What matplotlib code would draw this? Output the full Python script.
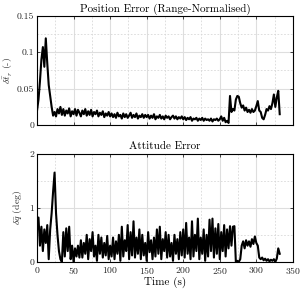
import numpy as np
import matplotlib
matplotlib.use('Agg')
import matplotlib.pyplot as plt
from matplotlib.ticker import MultipleLocator, FuncFormatter

plt.rcParams['font.family'] = 'serif'
plt.rcParams['font.serif'] = ['cmr10']
plt.rcParams['mathtext.fontset'] = 'cm'
plt.rcParams['axes.formatter.use_mathtext'] = True

# range-normalised position error, sampled every 2 s
pos_err = [0.02, 0.035, 0.06, 0.09, 0.107, 0.08, 0.119, 0.085, 0.055, 0.04,
           0.025, 0.013, 0.018, 0.012, 0.022, 0.016, 0.025,
           # 34 - 100 s
           0.014, 0.022, 0.013, 0.02, 0.016, 0.023, 0.012, 0.019, 0.015, 0.022,
           0.013, 0.021, 0.017, 0.012, 0.02, 0.015, 0.022, 0.013, 0.019, 0.014,
           0.021, 0.012, 0.018, 0.015, 0.02, 0.012, 0.017, 0.014, 0.019, 0.011,
           0.016, 0.013, 0.018, 0.012,
           # 102 - 150 s
           0.016, 0.011, 0.015, 0.01, 0.017, 0.012, 0.014, 0.009, 0.016, 0.011,
           0.015, 0.01, 0.013, 0.017, 0.01, 0.014, 0.011, 0.016, 0.009, 0.013,
           0.011, 0.015, 0.01, 0.014, 0.011,
           # 152 - 200 s
           0.014, 0.009, 0.013, 0.01, 0.015, 0.008, 0.012, 0.01, 0.014, 0.009,
           0.012, 0.008, 0.013, 0.01, 0.012, 0.008, 0.011, 0.013, 0.009, 0.012,
           0.008, 0.011, 0.009, 0.012, 0.008,
           # 202 - 250 s
           0.011, 0.007, 0.01, 0.008, 0.011, 0.006, 0.009, 0.008, 0.01, 0.006,
           0.009, 0.007, 0.01, 0.006, 0.009, 0.007, 0.008, 0.006, 0.009, 0.005,
           0.008, 0.007, 0.009, 0.006, 0.008,
           # 252 - 262 s
           0.012, 0.006, 0.01, 0.004, 0.006, 0.003,
           # 264 - 332 s
           0.04, 0.018, 0.022, 0.02, 0.035, 0.04, 0.039, 0.03, 0.024, 0.027,
           0.02, 0.024, 0.018, 0.021, 0.017, 0.022, 0.018, 0.02, 0.026, 0.033,
           0.02, 0.018, 0.01, 0.008, 0.014, 0.022, 0.02, 0.026, 0.022, 0.03,
           0.042, 0.025, 0.038, 0.047, 0.015]

# attitude error (deg), sampled every 2 s
att_err = [0.6, 0.82, 0.3, 0.65, 0.2, 0.6, 0.35, 0.68, 0.05, 0.6,
           0.9, 1.3, 1.65, 0.9, 0.5, 0.2, 0.05, 0.0, 0.55, 0.1,
           0.62, 0.2, 0.65, 0.05, 0.3, 0.0, 0.25, 0.1, 0.3, 0.08,
           # 60 - 100 s
           0.4, 0.08, 0.35, 0.15, 0.5, 0.05, 0.42, 0.2, 0.55, 0.1,
           0.3, 0.02, 0.5, 0.15, 0.45, 0.08, 0.35, 0.12, 0.48, 0.05, 0.3,
           # 102 - 140 s
           0.1, 0.45, 0.05, 0.38, 0.15, 0.5, 0.02, 0.65, 0.1, 0.4,
           0.2, 0.68, 0.05, 0.55, 0.12, 0.75, 0.08, 0.45, 0.15, 0.6,
           # 142 - 180 s
           0.05, 0.5, 0.12, 0.35, 0.02, 0.55, 0.18, 0.4, 0.05, 0.45,
           0.1, 0.6, 0.15, 0.65, 0.05, 0.42, 0.2, 0.55, 0.08, 0.5,
           # 182 - 220 s
           0.1, 0.35, 0.02, 0.5, 0.15, 0.42, 0.05, 0.55, 0.12, 0.6,
           0.08, 0.72, 0.15, 0.45, 0.05, 0.75, 0.1, 0.5, 0.2, 0.8,
           # 222 - 270 s
           0.05, 0.45, 0.15, 0.6, 0.02, 0.5, 0.1, 0.78, 0.2, 0.8,
           0.08, 0.62, 0.15, 0.7, 0.05, 0.55, 0.2, 0.68, 0.1, 0.6,
           0.25, 0.66, 0.3, 0.65, 0.66,
           # 272 - 332 s
           0.0, 0.02, 0.0, 0.05, 0.3, 0.38, 0.25, 0.4, 0.3, 0.38,
           0.28, 0.42, 0.33, 0.47, 0.35, 0.3, 0.08, 0.05, 0.08, 0.03,
           0.06, 0.02, 0.05, 0.01, 0.04, 0.02, 0.05, 0.0, 0.06, 0.25, 0.15]

t_pos = np.arange(len(pos_err)) * 2.0
t_att = np.arange(len(att_err)) * 2.0

titles = ['Position Error (Range-Normalised)', 'Attitude Error']
ylabels = [r'$\delta\bar{t}_r$ (-)', r'$\delta\bar{q}$ (deg)']
ylabel_x = [-0.085, -0.05]

fig = plt.figure(figsize=(3.01, 2.91), dpi=100)
ax1 = fig.add_axes([0.123, 0.570, 0.850, 0.376])
ax2 = fig.add_axes([0.123, 0.100, 0.850, 0.372])

ax1.plot(t_pos, pos_err, color='k', lw=1.5)
ax2.plot(t_att, att_err, color='k', lw=1.5)

ax1.set_ylim(0, 0.15)
ax1.yaxis.set_major_locator(MultipleLocator(0.05))
ax1.yaxis.set_minor_locator(MultipleLocator(0.025))
ax2.set_ylim(0, 2)
ax2.yaxis.set_major_locator(MultipleLocator(1))
ax2.yaxis.set_minor_locator(MultipleLocator(0.5))

fmt = FuncFormatter(lambda v, p: '{:g}'.format(round(v, 4)))
for ax, title, yl, lx in zip([ax1, ax2], titles, ylabels, ylabel_x):
    ax.set_xlim(0, 350)
    ax.xaxis.set_major_locator(MultipleLocator(50))
    ax.xaxis.set_minor_locator(MultipleLocator(25))
    ax.yaxis.set_major_formatter(fmt)
    ax.grid(which='major', color='#dedede', lw=0.8, ls='-')
    ax.grid(which='minor', color='#d8d8d8', lw=0.6, ls=(0, (2, 2)))
    ax.set_axisbelow(True)
    ax.tick_params(which='both', direction='in', top=True, right=True,
                   labelsize=7, colors='#262626', length=2.5, width=0.6, pad=2)
    ax.tick_params(which='minor', length=0)
    for s in ax.spines.values():
        s.set_linewidth(0.8)
    ax.set_title(title, fontsize=8, pad=3)
    ax.set_ylabel(yl, fontsize=7, color='#262626')
    ax.yaxis.set_label_coords(lx, 0.5)

ax1.tick_params(labelbottom=False)
ax2.set_xlabel('Time (s)', fontsize=8, labelpad=1)

fig.savefig('out.png', dpi=100)
